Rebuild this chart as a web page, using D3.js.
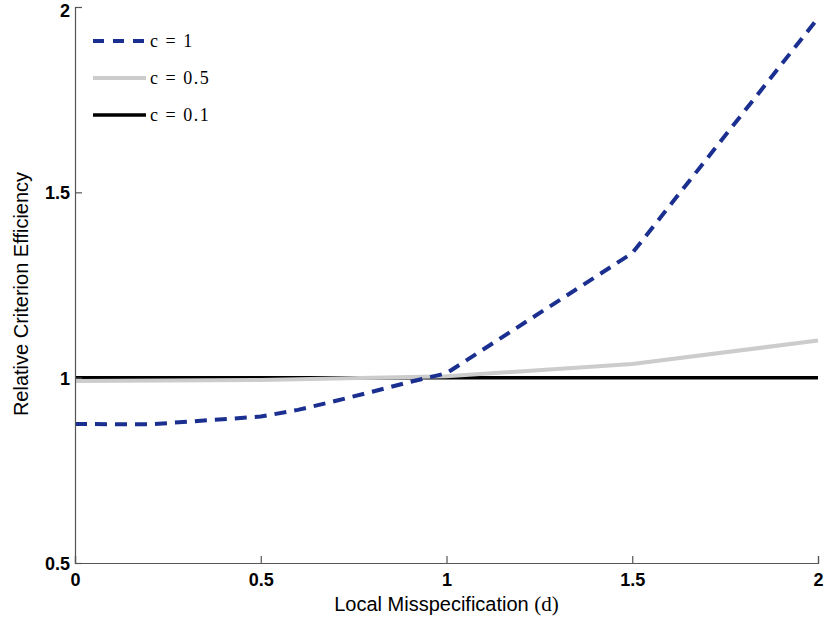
<!DOCTYPE html>
<html>
<head>
<meta charset="utf-8">
<title>Relative Criterion Efficiency</title>
<style>
  body { margin: 0; background: #fff; }
  svg { display: block; }
</style>
</head>
<body>
<svg id="chart" width="825" height="621"></svg>
<script src="https://d3js.org/d3.v7.min.js"></script>
<script>
// data
const dC1   = [0, 0.2, 0.5, 0.6, 0.7, 0.8, 0.9, 1, 1.5, 2];
const effC1 = [0.875, 0.874, 0.895, 0.913, 0.937, 0.962, 0.988, 1.012, 1.336, 1.97];
const dC05   = [0, 0.5, 1, 1.5, 2];
const effC05 = [0.991, 0.994, 1.004, 1.037, 1.10];
const dC01   = [0, 2];
const effC01 = [1, 1];
const xTicks = [0, 0.5, 1, 1.5, 2];
const yTicks = [0.5, 1, 1.5, 2];
const seriesNames = ["c=1", "c=0.5", "c=0.1"];

const svg = d3.select("#chart");
const margin = {left: 75, right: 7, top: 7, bottom: 58};
const W = 825, H = 621;

const x = d3.scaleLinear().domain([0, 2]).range([margin.left, W - margin.right]);
const y = d3.scaleLinear().domain([0.5, 2]).range([H - margin.bottom, margin.top]);

const series = [
  {name: seriesNames[0], xs: dC1, ys: effC1, color: "#1a2f8f", width: 4, dash: "12,8"},
  {name: seriesNames[1], xs: dC05, ys: effC05, color: "#cccccc", width: 4, dash: null},
  {name: seriesNames[2], xs: dC01, ys: effC01, color: "#000000", width: 3.5, dash: null}
];

const line = d3.line().x(d => x(d[0])).y(d => y(d[1]));

// draw back to front: black, gray, blue
[2, 1, 0].forEach(i => {
  const s = series[i];
  svg.append("path")
    .datum(s.xs.map((v, k) => [v, s.ys[k]]))
    .attr("d", line)
    .attr("fill", "none")
    .attr("stroke", s.color)
    .attr("stroke-width", s.width)
    .attr("stroke-dasharray", s.dash);
});

// axes
const xAxis = svg.append("g")
  .attr("transform", `translate(0,${y(0.5)})`)
  .call(d3.axisBottom(x).tickValues(xTicks).tickFormat(d3.format("~g")).tickSize(-7).tickPadding(10));
const yAxis = svg.append("g")
  .attr("transform", `translate(${x(0)},0)`)
  .call(d3.axisLeft(y).tickValues(yTicks).tickFormat(d3.format("~g")).tickSize(-7).tickPadding(5));

[xAxis, yAxis].forEach(g => {
  g.select(".domain").attr("stroke", "#555").attr("stroke-width", 1.2);
  g.selectAll(".tick line").attr("stroke", "#555").attr("stroke-width", 1.2);
  g.selectAll(".tick text")
    .attr("font-family", "Liberation Sans, Arial, sans-serif")
    .attr("font-size", 18)
    .attr("font-weight", "bold")
    .attr("fill", "#000");
});
xAxis.selectAll(".tick text").attr("dy", "0.72em");
yAxis.selectAll(".tick text").attr("dy", d => d === 2 ? "0.55em" : "0.36em");

// axis titles
const xTitle = svg.append("text")
  .attr("x", x(1))
  .attr("y", 611)
  .attr("text-anchor", "middle")
  .attr("font-family", "Liberation Sans, Arial, sans-serif")
  .attr("font-size", 20);
xTitle.append("tspan").text("Local Misspecification ");
xTitle.append("tspan").attr("font-family", "Liberation Serif, serif").attr("font-size", 21).text("(d)");

svg.append("text")
  .attr("transform", `translate(28,294) rotate(-90)`)
  .attr("text-anchor", "middle")
  .attr("font-family", "Liberation Sans, Arial, sans-serif")
  .attr("font-size", 20)
  .text("Relative Criterion Efficiency");

// legend
const legend = svg.append("g").attr("transform", "translate(93,41)");
series.forEach((s, i) => {
  const g = legend.append("g").attr("transform", `translate(0,${i * 37})`);
  g.append("line")
    .attr("x1", 0).attr("x2", 53).attr("y1", 0).attr("y2", 0)
    .attr("stroke", s.color)
    .attr("stroke-width", s.width)
    .attr("stroke-dasharray", s.dash ? "11,9" : null);
  g.append("text")
    .attr("x", 57)
    .attr("y", 6)
    .attr("font-family", "Liberation Serif, serif")
    .attr("font-size", 18)
    .text(s.name.replace("=", " = ").split("").join("\u200A"));
});
</script>
</body>
</html>
